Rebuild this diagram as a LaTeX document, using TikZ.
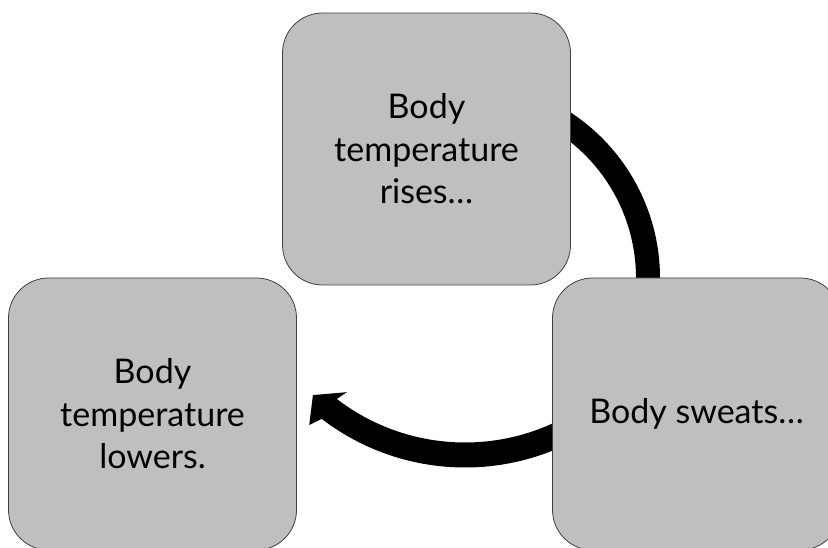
\documentclass[tikz,border=0pt]{standalone}
\usepackage{fontspec}
\setmainfont{Lato}
\definecolor{boxgray}{HTML}{BFBFBF}
\definecolor{boxline}{HTML}{404040}
\begin{document}
\begin{tikzpicture}[x=1pt,y=1pt,
  box/.style={draw=boxline, line width=0.8pt, fill=boxgray, rounded corners=40pt,
    minimum width=288pt, minimum height=272pt, align=center, inner sep=0pt,
    font=\fontsize{34}{42.5}\selectfont},
  cyclearc/.style={draw=black, line width=24pt}]
\useasboundingbox (0,0) rectangle (828,-548);
\clip (0,0) rectangle (828,-548);
% arc from top box to right box (behind boxes)
\coordinate (c1) at (462,-278);
\draw[cyclearc] (c1) ++(62:186pt) arc[start angle=62, end angle=-5, radius=186pt];
% arc with arrowhead from right box to left box
\begin{scope}[shift={(465,-232)}]
  \fill[black] (-60:235.5pt) arc[start angle=-60, end angle=-127.5, radius=235.5pt]
    -- (-128.9:248pt) -- (-133:223pt) -- (-126.4:199pt)
    -- (-127.5:210.5pt) arc[start angle=-127.5, end angle=-60, radius=210.5pt] -- cycle;
\end{scope}
% boxes
\node[box] (top) at (426.5,-149) {Body\\temperature\\rises…};
\node[box] (left) at (152.5,-414) {Body\\temperature\\lowers.};
\node[box] (right) at (696.5,-414) {Body sweats…};
\end{tikzpicture}
\end{document}
